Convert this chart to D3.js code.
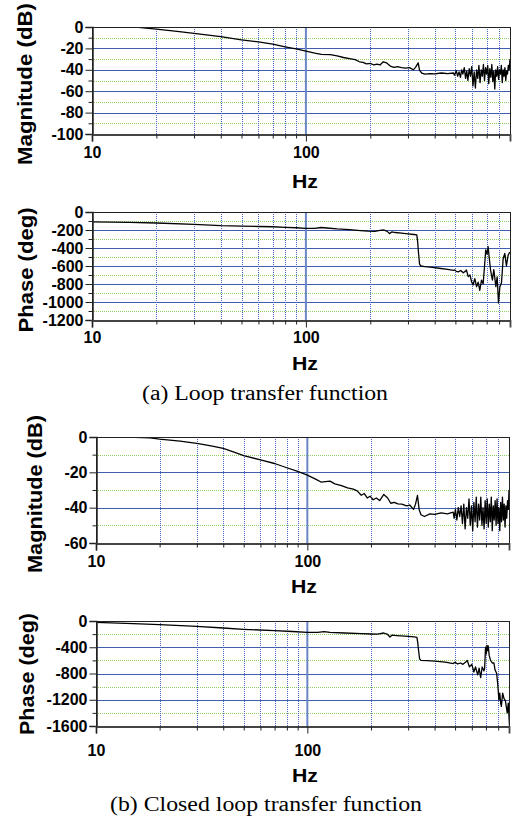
<!DOCTYPE html>
<html>
<head>
<meta charset="utf-8">
<script src="https://cdn.jsdelivr.net/npm/d3@7"></script>
<style>
  body { margin: 0; background: #fff; }
  svg { display: block; }
  .sans { font-family: "Liberation Sans", Arial, sans-serif; font-weight: bold; }
  .serif { font-family: "Liberation Serif", "Times New Roman", serif; }
</style>
</head>
<body>
<svg id="chart" width="512" height="819"></svg>
<script>
// Frequency axis (log scale, Hz)
const hzDomain = [10, 900];
const hzLabels = [10, 100];
const hzMinor = [20, 30, 40, 50, 60, 70, 80, 90, 200, 300, 400, 500, 600, 700, 800];

// (a) Loop transfer function: magnitude
const loopMagHz = [16, 20, 25, 30, 35, 40, 50, 60, 70, 80, 90, 100, 110, 118, 130, 140, 150, 160, 170, 178, 185, 192, 200, 208, 215, 222, 230, 238, 248, 258, 268, 280, 292, 305, 318, 326, 335, 340, 348, 360, 380, 400, 430, 460, 490,
  495, 505, 512, 520, 528, 535, 542, 550, 558, 565, 572, 580, 588, 596, 604, 612, 620, 628, 636, 644, 652, 660, 668, 676, 684, 692, 700, 708, 716, 724, 732, 740, 748, 756, 764, 772, 780, 788, 796, 804, 812, 820, 828, 836, 844, 852, 860, 868, 876, 884, 892, 900];
const loopMagDb = [0, -2, -4, -6, -7.5, -9, -12, -14, -16, -18.5, -20.5, -22.5, -24.5, -25.5, -25.8, -27, -28.5, -29.5, -30.5, -32.5, -33, -34.5, -34, -35.5, -34.8, -35.5, -32.5, -33.5, -36.5, -37.8, -37, -38, -38.5, -38, -40, -37.5, -33.5, -40.5, -43, -44, -43.5, -43.8, -43, -43.5, -43,
  -45, -41, -46, -42, -47, -40, -44, -38, -48, -41, -50, -39, -46, -37, -55, -42, -57, -40, -48, -36, -52, -40, -46, -35, -50, -38, -44, -36, -53, -39, -47, -35, -51, -41, -58, -40, -46, -37, -49, -40, -44, -36, -52, -40, -46, -38, -50, -41, -44, -36, -40, -30];

// (a) Loop transfer function: phase
const loopPhaseHz = [10, 15, 20, 30, 40, 50, 60, 70, 80, 90, 100, 110, 118, 125, 140, 160, 180, 195, 210, 222, 232, 240, 246, 252, 262, 280, 300, 320, 330, 333, 336, 340, 345, 360, 390, 420, 460, 490,
  497, 505, 515, 530, 544, 556, 563, 574, 585, 595, 605, 616, 628, 639, 650, 662, 674, 686, 693, 703, 711, 719, 730, 745, 756, 773, 784, 795, 807, 821, 836, 851, 866, 882, 898];
const loopPhaseDeg = [-110, -116, -122, -137, -152, -158, -161, -164, -170, -175, -181, -181, -172, -178, -188, -196, -206, -212, -215, -205, -200, -215, -240, -222, -228, -235, -242, -250, -255, -330, -450, -580, -600, -608, -615, -625, -638, -648,
  -644, -660, -665, -650, -675, -660, -644, -718, -700, -774, -811, -740, -830, -780, -870, -756, -800, -567, -420, -470, -385, -500, -644, -756, -640, -830, -720, -1011, -830, -790, -520, -460, -600, -480, -445];

// (b) Closed loop transfer function: magnitude
const closedMagHz = [14, 18, 20, 25, 30, 35, 40, 45, 50, 60, 70, 80, 90, 100, 110, 116, 128, 135, 145, 155, 165, 172, 180, 186, 192, 198, 205, 212, 220, 230, 240, 248, 258, 268, 280, 295, 305, 318, 325, 332, 338, 345, 358, 380, 400, 430, 460, 490,
  495, 502, 510, 518, 526, 534, 542, 550, 558, 566, 574, 582, 590, 598, 606, 614, 622, 630, 638, 646, 654, 662, 670, 678, 686, 694, 702, 710, 718, 726, 734, 742, 750, 758, 766, 774, 782, 790, 798, 806, 814, 822, 830, 838, 846, 854, 862, 870, 878, 886, 894, 900];
const closedMagDb = [0, -0.5, -1.2, -2.3, -3.6, -5, -6.5, -8.5, -10.5, -13, -15, -17.4, -19.5, -21.6, -24, -25.5, -25, -26.5, -27.5, -28.8, -29.5, -30.5, -33, -32, -34.5, -33.5, -35.5, -34.5, -36, -32.5, -34.5, -37.5, -37, -37.8, -38, -39, -38.5, -41, -38, -33, -41, -44, -45, -43.5, -43.8, -43, -43.5, -42.5,
  -46, -41, -47, -40, -45, -39, -49, -38, -52, -40, -46, -35, -50, -39, -53, -37, -48, -34, -51, -38, -47, -34, -50, -40, -52, -36, -49, -35, -51, -38, -48, -34, -53, -39, -47, -36, -50, -35, -49, -40, -53, -37, -48, -34, -47, -38, -51, -39, -46, -36, -41, -30];

// (b) Closed loop transfer function: phase
const closedPhaseHz = [10, 15, 20, 30, 40, 50, 70, 85, 100, 112, 120, 128, 150, 180, 200, 215, 230, 240, 246, 252, 265, 290, 320, 330, 333, 336, 340, 345, 370, 400, 450, 490,
  500, 515, 531, 545, 560, 571, 585, 600, 614, 625, 640, 650, 661, 672, 685, 690, 697, 703, 708, 713, 718, 725, 736, 750, 764, 772, 787, 798, 806, 814, 822, 828, 840, 852, 866, 883, 893, 905];
const closedPhaseDeg = [-20, -40, -56, -81, -107, -127, -147, -160, -173, -172, -162, -172, -183, -193, -198, -200, -183, -205, -244, -215, -222, -232, -242, -250, -330, -450, -580, -600, -605, -612, -628, -648,
  -630, -655, -640, -660, -630, -600, -700, -660, -777, -700, -820, -720, -863, -700, -760, -720, -400, -500, -370, -450, -380, -520, -600, -640, -640, -740, -800, -1000, -1200, -1100, -1250, -1300, -1100, -1180, -1220, -1400, -1250, -1600];

const svg = d3.select("#chart");
const zip = (xs, ys) => xs.map((v, i) => [v, ys[i]]);
const crisp = v => Math.round(v) + 0.5;
let clipId = 0;

function drawPanel(p) {
  const { left, right, top, bottom } = p.box;
  const x = d3.scaleLog().domain(hzDomain).range([left, right]);
  const y = d3.scaleLinear().domain(p.yDomain).range([bottom, top]);
  const g = svg.append("g");

  // horizontal grid: dotted green for minor steps, solid blue for major steps
  g.selectAll(null).data(p.yMinor).join("line")
    .attr("x1", left).attr("x2", right)
    .attr("y1", d => crisp(y(d))).attr("y2", d => crisp(y(d)))
    .attr("stroke", "#8fd060").attr("stroke-width", 1).attr("stroke-dasharray", "1,1");
  g.selectAll(null).data(p.yGrid).join("line")
    .attr("x1", left).attr("x2", right)
    .attr("y1", d => crisp(y(d))).attr("y2", d => crisp(y(d)))
    .attr("stroke", "#3f5fae").attr("stroke-width", 1.2);

  // vertical grid: dotted blue per Hz step, solid at 100 Hz
  g.selectAll(null).data(hzMinor).join("line")
    .attr("x1", d => crisp(x(d))).attr("x2", d => crisp(x(d)))
    .attr("y1", top).attr("y2", bottom)
    .attr("stroke", "#4a68c4").attr("stroke-width", 1).attr("stroke-dasharray", "1,1");
  g.append("line")
    .attr("x1", x(100)).attr("x2", x(100)).attr("y1", top).attr("y2", bottom)
    .attr("stroke", "#6a86c4").attr("stroke-width", 2);

  // data trace
  const cid = "clip" + (clipId++);
  svg.append("clipPath").attr("id", cid).append("rect")
    .attr("x", left).attr("y", top).attr("width", right - left).attr("height", bottom - top);
  const line = d3.line().x(d => x(d[0])).y(d => y(d[1]));
  g.append("path").datum(zip(p.hz, p.vals))
    .attr("clip-path", `url(#${cid})`)
    .attr("fill", "none").attr("stroke", "#000").attr("stroke-width", 1.3)
    .attr("stroke-linejoin", "round")
    .attr("d", line);

  // frame
  g.append("rect").attr("x", crisp(left)).attr("y", crisp(top))
    .attr("width", Math.round(right - left)).attr("height", Math.round(bottom - top))
    .attr("fill", "none").attr("stroke", "#222").attr("stroke-width", 1);

  // left axis
  const yAxis = g.append("g").attr("transform", `translate(${crisp(left)},0)`)
    .call(d3.axisLeft(y).tickValues(p.yTicks).tickSize(7).tickPadding(2).tickFormat(d => String(d)));
  yAxis.call(s => s.select(".domain").attr("stroke", "#222").attr("stroke-width", 1.5));
  yAxis.selectAll("line").attr("stroke", "#222");
  yAxis.selectAll("text").attr("class", "sans").attr("font-size", 16).attr("fill", "#000");
  g.append("g").attr("transform", `translate(${crisp(left)},0)`)
    .call(d3.axisLeft(y).tickValues(p.yMinorTicks).tickSize(4).tickFormat(""))
    .call(s => s.select(".domain").remove())
    .selectAll("line").attr("stroke", "#222");

  // bottom axis
  const xAxis = g.append("g").attr("transform", `translate(0,${crisp(bottom)})`)
    .call(d3.axisBottom(x).tickValues(hzLabels).tickSize(7).tickFormat(d => String(d)));
  xAxis.call(s => s.select(".domain").attr("stroke", "#444").attr("stroke-width", 1.8));
  xAxis.selectAll("line").attr("stroke", "#222");
  xAxis.selectAll("text").attr("class", "sans").attr("font-size", 16).attr("fill", "#000")
    .attr("y", p.xLabelGap).attr("dy", 0);
  g.append("g").attr("transform", `translate(0,${crisp(bottom)})`)
    .call(d3.axisBottom(x).tickValues(hzMinor).tickSize(4).tickFormat(""))
    .call(s => s.select(".domain").remove())
    .selectAll("line").attr("stroke", "#222");

  // titles
  g.append("text").attr("class", "sans").attr("font-size", 20)
    .attr("text-anchor", "middle")
    .attr("transform", `translate(${p.yTitle[0]},${p.yTitle[1]}) rotate(-90)`)
    .attr("dy", "0.35em")
    .attr("textLength", p.yTitle[2]).attr("lengthAdjust", "spacingAndGlyphs")
    .text(p.yLabel);
  g.append("text").attr("class", "sans").attr("font-size", 19)
    .attr("text-anchor", "middle")
    .attr("x", p.hzTitle[0]).attr("y", p.hzTitle[1])
    .attr("textLength", 26).attr("lengthAdjust", "spacingAndGlyphs")
    .text("Hz");
}

const range = (a, b, s) => d3.range(a, b + s / 2, s);

drawPanel({
  box: { left: 92, right: 510, top: 27, bottom: 134 },
  yDomain: [-100, 0],
  yTicks: range(-100, 0, 20), yMinorTicks: range(-90, -10, 20),
  yGrid: range(-80, -20, 20), yMinor: range(-90, -10, 20),
  hz: loopMagHz, vals: loopMagDb,
  xLabelGap: 23,
  yLabel: "Magnitude (dB)", yTitle: [25, 84, 162],
  hzTitle: [305, 188]
});

drawPanel({
  box: { left: 92, right: 510, top: 212, bottom: 320 },
  yDomain: [-1200, 0],
  yTicks: range(-1200, 0, 200), yMinorTicks: range(-1100, -100, 200),
  yGrid: range(-1000, -200, 200), yMinor: range(-1100, -100, 200),
  hz: loopPhaseHz, vals: loopPhaseDeg,
  xLabelGap: 22,
  yLabel: "Phase (deg)", yTitle: [26, 270, 125],
  hzTitle: [305, 370]
});

drawPanel({
  box: { left: 96, right: 509, top: 437, bottom: 543 },
  yDomain: [-60, 0],
  yTicks: range(-60, 0, 20), yMinorTicks: range(-50, -10, 20),
  yGrid: range(-40, -20, 20), yMinor: range(-50, -10, 20),
  hz: closedMagHz, vals: closedMagDb,
  xLabelGap: 23,
  yLabel: "Magnitude (dB)", yTitle: [35, 494, 158],
  hzTitle: [304, 593]
});

drawPanel({
  box: { left: 96, right: 509, top: 621, bottom: 726 },
  yDomain: [-1600, 0],
  yTicks: range(-1600, 0, 400), yMinorTicks: range(-1400, -200, 400),
  yGrid: range(-1200, -400, 400), yMinor: range(-1400, -200, 400),
  hz: closedPhaseHz, vals: closedPhaseDeg,
  xLabelGap: 29,
  yLabel: "Phase (deg)", yTitle: [27, 674, 122],
  hzTitle: [305, 782]
});

// captions
svg.append("text").attr("class", "serif").attr("font-size", 20)
  .attr("text-anchor", "middle").attr("x", 265).attr("y", 400)
  .attr("textLength", 246).attr("lengthAdjust", "spacingAndGlyphs")
  .text("(a) Loop transfer function");
svg.append("text").attr("class", "serif").attr("font-size", 20)
  .attr("text-anchor", "middle").attr("x", 266).attr("y", 811)
  .attr("textLength", 312).attr("lengthAdjust", "spacingAndGlyphs")
  .text("(b) Closed loop transfer function");
</script>
</body>
</html>
